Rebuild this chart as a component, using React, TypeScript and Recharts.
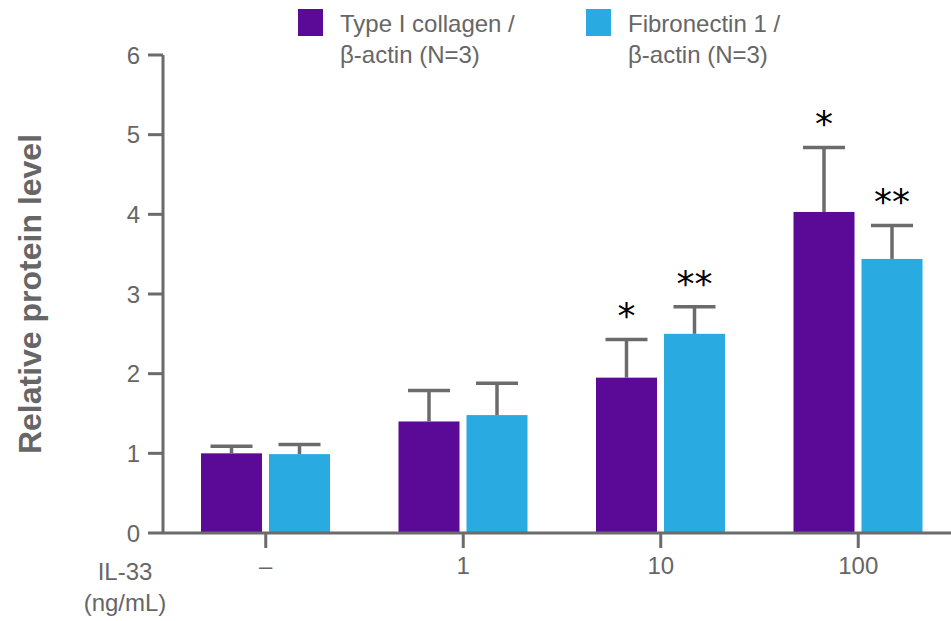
import { BarChart, Bar, XAxis, YAxis } from "recharts";

const doses = ["–", "1", "10", "100"];
const collagen = [1.0, 1.4, 1.95, 4.03];
const collagenErr = [0.09, 0.39, 0.48, 0.81];
const collagenSig = ["", "", "*", "*"];
const fibronectin = [0.99, 1.48, 2.5, 3.44];
const fibronectinErr = [0.12, 0.4, 0.34, 0.42];
const fibronectinSig = ["", "", "**", "**"];
const yTicks = [0, 1, 2, 3, 4, 5, 6];

const series = [
  { key: "collagen", line1: "Type I collagen /", line2: "β-actin (N=3)", color: "#5A0A96" },
  { key: "fibronectin", line1: "Fibronectin 1 /", line2: "β-actin (N=3)", color: "#29ABE2" },
];

const data = doses.map((dose, i) => ({
  dose,
  collagen: collagen[i],
  collagenErr: collagenErr[i],
  collagenSig: collagenSig[i],
  fibronectin: fibronectin[i],
  fibronectinErr: fibronectinErr[i],
  fibronectinSig: fibronectinSig[i],
}));

const axisColor = "#6b6b6b";
const textColor = "#666666";
const font = "'Liberation Sans', Arial, sans-serif";

// bar + upper error whisker + significance stars, scaled from the bar's own height
const barWithError = (key: string) => (props: any) => {
  const { x, y, width, height, fill, payload } = props;
  const perUnit = height / payload[key];
  const capY = y - payload[key + "Err"] * perUnit;
  const cx = x + width / 2;
  const sig = payload[key + "Sig"];
  return (
    <g>
      <rect x={x} y={y} width={width} height={height} fill={fill} />
      <line x1={cx} y1={y} x2={cx} y2={capY} stroke={axisColor} strokeWidth={3.5} />
      <line x1={cx - 21} y1={capY} x2={cx + 21} y2={capY} stroke={axisColor} strokeWidth={3.5} />
      {sig && (
        <text x={cx} y={capY - 11} textAnchor="middle" fontSize={36} fill="#000" fontFamily="'DejaVu Sans', sans-serif">
          {sig}
        </text>
      )}
    </g>
  );
};

export default function App() {
  return (
    <div style={{ position: "relative", width: 951, height: 621, overflow: "hidden", fontFamily: font }}>
      <style>{`body{margin:0}`}</style>
      <BarChart
        width={957}
        height={621}
        data={data}
        margin={{ top: 55, right: 0, left: 0, bottom: 0 }}
        barSize={61}
        barGap={7}
      >
        <XAxis
          dataKey="dose"
          height={88}
          padding={{ left: 4, right: 0 }}
          stroke={axisColor}
          axisLine={{ stroke: axisColor, strokeWidth: 3 }}
          tickLine={{ stroke: axisColor, strokeWidth: 3 }}
          tickSize={15}
          tickMargin={9}
          tick={{ fill: textColor, fontSize: 24, fontFamily: font }}
        />
        <YAxis
          width={163}
          domain={[0, 6]}
          ticks={yTicks}
          interval={0}
          stroke={axisColor}
          axisLine={{ stroke: axisColor, strokeWidth: 3 }}
          tickLine={{ stroke: axisColor, strokeWidth: 3 }}
          tickSize={15}
          tickMargin={8}
          tick={{ fill: textColor, fontSize: 24, fontFamily: font }}
          label={{
            value: "Relative protein level",
            angle: -90,
            position: "insideLeft",
            offset: 30,
            style: { textAnchor: "middle", fill: textColor, fontSize: 32, fontWeight: "bold", fontFamily: font },
          }}
        />
        {series.map((s) => (
          <Bar key={s.key} dataKey={s.key} fill={s.color} isAnimationActive={false} shape={barWithError(s.key)} />
        ))}
      </BarChart>

      {series.map((s, i) => (
        <div key={s.key} style={{ position: "absolute", top: 8, left: i === 0 ? 298 : 586, display: "flex" }}>
          <div style={{ width: 25, height: 27, background: s.color, marginTop: 1, marginRight: 17 }} />
          <div style={{ color: textColor, fontSize: 24, lineHeight: "31px" }}>
            <div>{s.line1}</div>
            <div>{s.line2}</div>
          </div>
        </div>
      ))}

      <div
        style={{
          position: "absolute",
          top: 556,
          left: 60,
          width: 130,
          textAlign: "center",
          color: textColor,
          fontSize: 24,
          lineHeight: "31px",
        }}
      >
        <div>IL-33</div>
        <div>(ng/mL)</div>
      </div>
    </div>
  );
}
